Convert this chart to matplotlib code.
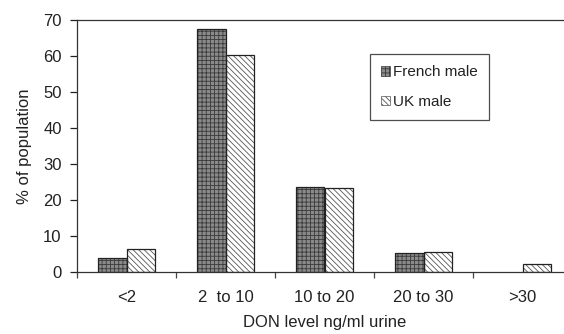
import matplotlib
matplotlib.use("Agg")
import matplotlib.pyplot as plt
import matplotlib.patches as mpatches
import numpy as np

plt.rcParams['font.family'] = ['Liberation Sans', 'DejaVu Sans']
plt.rcParams['hatch.linewidth'] = 0.6

categories = ["<2", "2  to 10", "10 to 20", "20 to 30", ">30"]
french_male = [4.0, 67.4, 23.6, 5.4, 0.0]
uk_male = [6.4, 60.2, 23.3, 5.5, 2.2]
series_names = ["French male", "UK male"]
yticks = [0, 10, 20, 30, 40, 50, 60, 70]

fig = plt.figure(figsize=(5.64, 3.34), dpi=100)
ax = fig.add_axes([77/564, 62/334, 495/564, 252/334])

x = np.arange(len(categories))
w = 0.29
fr_kw = dict(facecolor='#8a8a8a', hatch='++++', edgecolor='#3a3a3a')
uk_kw = dict(facecolor='white', hatch='\\\\\\\\\\\\', edgecolor='#555555')

fr_lw = [0.9 if v > 0 else 0 for v in french_male]
uk_lw = [0.9 if v > 0 else 0 for v in uk_male]

ax.bar(x - w/2, french_male, w, **fr_kw, linewidth=0, zorder=2)
ax.bar(x - w/2, french_male, w, facecolor='none', edgecolor='#222222', linewidth=fr_lw, zorder=3)
ax.bar(x + w/2, uk_male, w, **uk_kw, linewidth=0, zorder=2)
ax.bar(x + w/2, uk_male, w, facecolor='none', edgecolor='#222222', linewidth=uk_lw, zorder=3)

ax.set_xlim(-0.5, len(categories) - 0.5)
ax.set_ylim(0, 70)
ax.set_yticks(yticks)
ax.tick_params(axis='y', direction='out', length=5, width=0.9, pad=6, labelsize=12, colors='#222222')

ax.set_xticks(np.arange(len(categories) + 1) - 0.5)
ax.set_xticklabels([])
ax.tick_params(axis='x', which='major', direction='out', length=4, width=0.9, colors='#444444')
ax.set_xticks(x, minor=True)
ax.set_xticklabels(categories, minor=True)
ax.tick_params(axis='x', which='minor', length=0, pad=13, labelsize=12, labelcolor='#222222')

for s in ['left', 'bottom', 'top', 'right']:
    ax.spines[s].set_linewidth(0.9)
    ax.spines[s].set_color('#333333')

ax.set_ylabel("% of population", fontsize=12, color='#222222', labelpad=8)
ax.set_xlabel("DON level ng/ml urine", fontsize=12, color='#222222', labelpad=7)

handles = [mpatches.Patch(**fr_kw, linewidth=0.5), mpatches.Patch(**uk_kw, linewidth=0.5)]
leg = ax.legend(handles, series_names, loc='upper left', bbox_to_anchor=(0.592, 0.865),
                borderaxespad=0, fontsize=11, frameon=True, fancybox=False,
                handlelength=0.55, handleheight=0.55, handletextpad=0.2,
                labelspacing=1.0, borderpad=0.75, edgecolor='#222222')
leg.get_frame().set_linewidth(0.9)
for t in leg.get_texts():
    t.set_color('#222222')

fig.savefig("out.png", dpi=100)
